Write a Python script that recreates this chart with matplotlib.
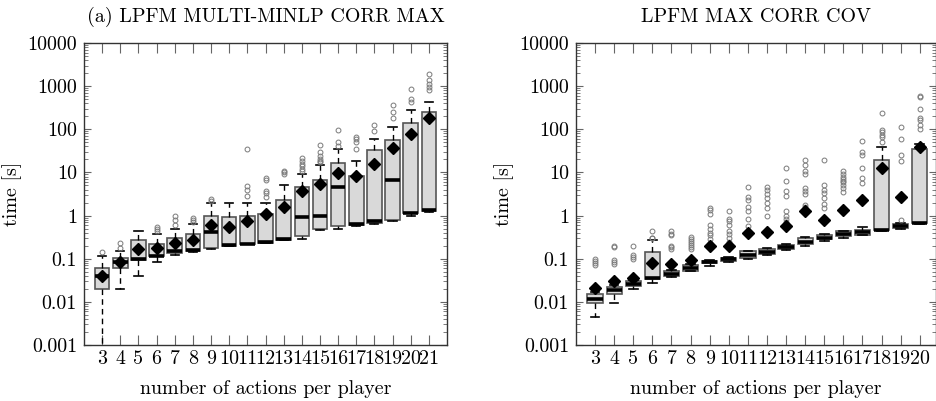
import numpy as np
import matplotlib
matplotlib.use("Agg")
import matplotlib.pyplot as plt
from matplotlib.ticker import FixedLocator, FixedFormatter, LogLocator, NullFormatter

plt.rcParams['font.family'] = ['cmr10', 'DejaVu Serif']
plt.rcParams['axes.formatter.use_mathtext'] = True

# (a) LPFM MULTI-MINLP CORR MAX
cats_a = list(range(3, 22))
lo_a = [1e-5, 0.02, 0.04, 0.083, 0.124, 0.145, 0.172, 0.2, 0.215, 0.235, 0.265, 0.28,
        0.47, 0.5, 0.57, 0.63, 0.73, 1.0, 1.22]
q1_a = [0.02, 0.061, 0.095, 0.113, 0.136, 0.148, 0.177, 0.2, 0.22, 0.235, 0.27, 0.34,
        0.49, 0.57, 0.62, 0.68, 0.81, 1.13, 1.29]
med_a = [0.04, 0.084, 0.1, 0.118, 0.148, 0.16, 0.415, 0.205, 0.225, 0.24, 0.28, 0.92,
         1.0, 4.7, 0.65, 0.74, 6.7, 1.16, 1.32]
q3_a = [0.061, 0.104, 0.265, 0.222, 0.30, 0.37, 0.99, 0.92, 0.96, 1.06, 2.3, 4.5,
        6.7, 16.4, 8.3, 33, 55, 143, 257]
hi_a = [0.113, 0.148, 0.43, 0.38, 0.49, 0.64, 2.0, 1.95, 1.95, 1.95, 5.0, 9.1,
        15, 35, 18.9, 59, 112, 281, 437]
mean_a = [0.04, 0.083, 0.17, 0.18, 0.23, 0.275, 0.59, 0.54, 0.76, 1.07, 1.54, 3.75,
          5.4, 9.6, 8.1, 15.8, 36.5, 77, 187]
fliers_a = [[0.14], [0.18, 0.23], [], [0.45, 0.5, 0.55], [0.6, 0.8, 1.0],
            [0.72, 0.8, 0.88], [2.2, 2.4], [], [2.8, 4.0, 4.8, 35],
            [2.7, 3.4, 3.8, 6.8, 7.5], [9.0, 10, 11], [11, 12, 14, 16, 18, 22],
            [17, 18, 20, 24, 30, 44], [42, 50, 97], [35, 50, 60, 68],
            [93, 126], [180, 250, 370], [420, 500, 850],
            [820, 950, 1100, 1400, 1920]]

# LPFM MAX CORR COV
cats_b = list(range(3, 21))
lo_b = [0.0045, 0.0094, 0.02, 0.028, 0.038, 0.051, 0.068, 0.085, 0.1, 0.125, 0.16,
        0.2, 0.26, 0.31, 0.35, 0.44, 0.5, 0.64]
q1_b = [0.0094, 0.0155, 0.0236, 0.034, 0.04, 0.053, 0.078, 0.088, 0.104, 0.13, 0.17,
        0.22, 0.28, 0.33, 0.36, 0.46, 0.52, 0.66]
med_b = [0.0117, 0.019, 0.026, 0.035, 0.044, 0.062, 0.083, 0.097, 0.12, 0.145, 0.19,
         0.25, 0.31, 0.38, 0.42, 0.47, 0.56, 0.68]
q3_b = [0.0155, 0.0217, 0.03, 0.14, 0.051, 0.07, 0.09, 0.104, 0.148, 0.17, 0.21,
        0.3, 0.35, 0.43, 0.46, 19, 0.63, 35]
hi_b = [0.017, 0.024, 0.032, 0.265, 0.055, 0.075, 0.092, 0.107, 0.155, 0.178, 0.22,
        0.32, 0.37, 0.45, 0.54, 38.5, 0.66, 46]
mean_b = [0.021, 0.031, 0.036, 0.079, 0.077, 0.091, 0.2, 0.2, 0.39, 0.415, 0.56,
          1.29, 0.8, 1.36, 2.3, 13, 2.7, 38.5]
fliers_b = [[0.07, 0.08, 0.09, 0.1], [0.075, 0.085, 0.095, 0.19, 0.2],
            [0.1, 0.11, 0.12, 0.2], [0.3, 0.31, 0.43],
            [0.17, 0.19, 0.2, 0.35, 0.38, 0.43],
            [0.17, 0.19, 0.21, 0.23, 0.26, 0.29, 0.32],
            [0.23, 0.28, 0.35, 0.4, 0.5, 0.6, 1.1, 1.35, 1.5],
            [0.25, 0.3, 0.38, 0.45, 0.6, 0.75, 0.85, 1.25],
            [0.36, 0.45, 0.56, 0.83, 1.25, 1.6, 2.3, 2.7, 4.6],
            [1.0, 1.5, 2.0, 2.6, 3.2, 4.0, 4.7],
            [0.7, 0.85, 1.0, 1.25, 2.8, 3.7, 6.2, 13],
            [1.6, 1.8, 3.1, 3.7, 4.3, 9, 11, 15, 19],
            [1.5, 1.9, 2.5, 3.3, 4, 5.2, 19],
            [3.6, 4.3, 5, 6, 6.5, 7, 8, 9, 11],
            [5.7, 7.5, 13, 26, 30, 54],
            [50, 65, 75, 85, 95, 236],
            [0.77, 18.5, 25, 59, 110],
            [100, 125, 160, 180, 300, 560, 580]]

ytick_vals = [0.001, 0.01, 0.1, 1, 10, 100, 1000, 10000]
ytick_labels = ['0.001', '0.01', '0.1', '1', '10', '100', '1000', '10000']

FS = 14.4


def make_stats(lo, q1, med, q3, hi, mean, fliers):
    return [dict(whislo=a, q1=b, med=c, q3=d, whishi=e, mean=f, fliers=g)
            for a, b, c, d, e, f, g in zip(lo, q1, med, q3, hi, mean, fliers)]


def draw_panel(ax, cats, stats, title, xmax):
    ax.bxp(stats, positions=cats, widths=0.8, capwidths=0.45,
           showmeans=True, patch_artist=True,
           boxprops=dict(facecolor='#d9d9d9', edgecolor='#555555', linewidth=1.2),
           medianprops=dict(color='black', linewidth=2.6),
           whiskerprops=dict(color='black', linewidth=1.0, linestyle=(0, (4, 3))),
           capprops=dict(color='black', linewidth=1.2),
           flierprops=dict(marker='o', markersize=3.5, markerfacecolor='none',
                           markeredgecolor='#7a7a7a', markeredgewidth=0.7),
           meanprops=dict(marker='D', markersize=6.5, markerfacecolor='black',
                          markeredgecolor='black'))
    ax.set_yscale('log')
    ax.set_ylim(0.001, 10000)
    ax.set_xlim(2, xmax)
    ax.yaxis.set_major_locator(FixedLocator(ytick_vals))
    ax.yaxis.set_major_formatter(FixedFormatter(ytick_labels))
    ax.yaxis.set_minor_locator(LogLocator(base=10, subs=np.arange(2, 10), numticks=20))
    ax.yaxis.set_minor_formatter(NullFormatter())
    ax.set_xticks(cats)
    ax.set_xticklabels([str(c) for c in cats])
    ax.tick_params(which='both', direction='in', top=True, right=True,
                   color='#666666', labelsize=FS)
    ax.tick_params(axis='x', which='major', length=7, pad=4)
    ax.tick_params(axis='y', which='major', length=5, pad=5)
    ax.tick_params(axis='y', which='minor', length=3, width=0.6)
    for s in ax.spines.values():
        s.set_color('#333333')
        s.set_linewidth(1.0)
    ax.set_title(title, fontsize=FS, pad=15)
    ax.set_xlabel('number of actions per player', fontsize=FS, labelpad=8)
    ax.set_ylabel('time [s]', fontsize=FS, labelpad=4)


fig = plt.figure(figsize=(9.36, 4.01), dpi=100)
ax1 = fig.add_axes([84 / 936, 56 / 401, 363 / 936, 302 / 401])
ax2 = fig.add_axes([576 / 936, 56 / 401, 360 / 936, 302 / 401])

draw_panel(ax1, cats_a, make_stats(lo_a, q1_a, med_a, q3_a, hi_a, mean_a, fliers_a),
           '(a) LPFM MULTI-MINLP CORR MAX', 22)
draw_panel(ax2, cats_b, make_stats(lo_b, q1_b, med_b, q3_b, hi_b, mean_b, fliers_b),
           'LPFM MAX CORR COV', 20.85)

fig.savefig('out.png', dpi=100)
